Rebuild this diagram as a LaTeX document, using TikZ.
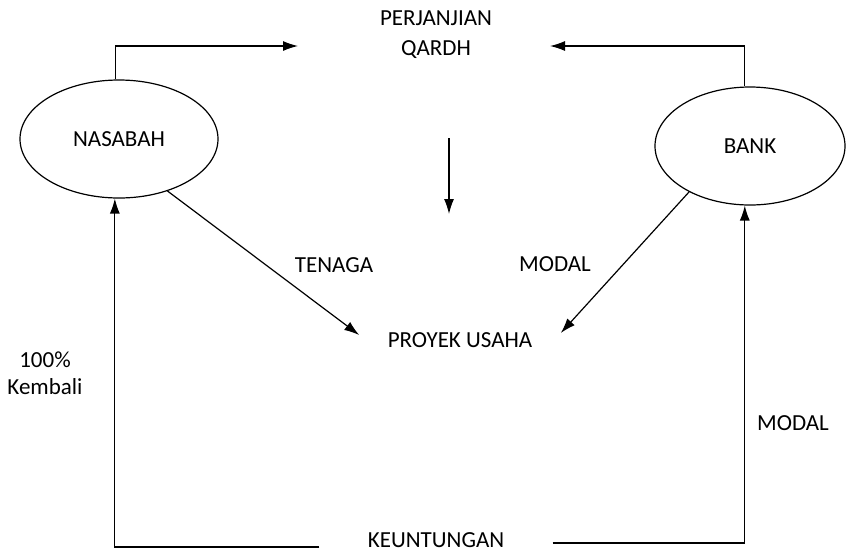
\documentclass[tikz,border=0pt]{standalone}
\usepackage{fontspec}
\setmainfont{Carlito}
\usetikzlibrary{shapes,arrows.meta}
\usetikzlibrary{positioning}

\begin{document}
\begin{tikzpicture}[x=0.5pt,y=-0.5pt,>={Latex[length=7.5pt,width=5pt]},line width=0.6pt,
  font=\fontsize{11.5}{13.5}\selectfont,
  pihak/.style={ellipse,draw,inner sep=0pt,minimum height=59pt}]
\path[use as bounding box] (0,0) rectangle (846,553); 
\path node[pihak,minimum width=99pt] (nasabah) at (119,139) {NASABAH}; 
\path node[pihak,minimum width=95pt] (bank) at (750,146) {BANK}; 
\path node[align=center] (qardh) at (436,35) {PERJANJIAN\\[1.5pt]QARDH}; 
\path node[inner xsep=14pt] (proyek) at (460,340) {PROYEK USAHA}; 
\path node[inner xsep=24pt,inner ysep=1pt] (keun) at (436,540) {KEUNTUNGAN}; 

% labels
\path node (tenaga) at (334,265) {TENAGA}; 
\path node (modal1) at (555,264) {MODAL}; 
\path node (modal2) at (793,423) {MODAL}; 
\path node[align=center] (kembali) at (45,373) {100\%\\Kembali}; 

\coordinate (qL) at (298,46); 
\coordinate (qR) at (550,46); 
\coordinate (dTop) at (449,138); 
\coordinate (dBot) at (449,214); 

\path[->,draw] (nasabah.93.5) |- (qL); 
\path[->,draw] (bank.95) |- (qR); 
\path[->,draw] (dTop) -- (dBot); 
\path[->,draw] (nasabah.-47) -- ([yshift=2.5pt]proyek.west); 
\path[->,draw] (bank.217) -- ([yshift=3.5pt]proyek.east); 
\path[->,draw] ([yshift=-3.5pt]keun.west) -| (nasabah.266.5); 
\path[->,draw] ([yshift=-1.5pt]keun.east) -| (bank.265); 
\end{tikzpicture}
\end{document}
